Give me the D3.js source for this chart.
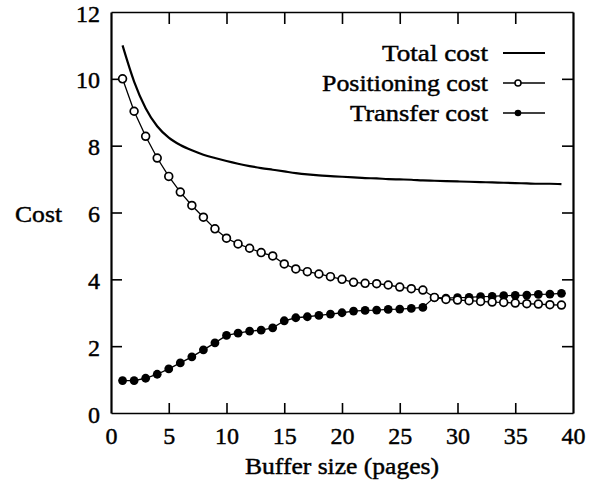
<!DOCTYPE html>
<html><head><meta charset="utf-8">
<script src="https://cdn.jsdelivr.net/npm/d3@7"></script>
</head>
<body><svg id="c" width="593" height="489"></svg>
<script>
const bufferSizes = [1,2,3,4,5,6,7,8,9,10,11,12,13,14,15,16,17,18,19,20,21,22,23,24,25,26,27,28,29,30,31,32,33,34,35,36,37,38,39];
const totalCost = [11.0,9.92,9.12,8.58,8.24,8.02,7.86,7.73,7.63,7.54,7.46,7.39,7.33,7.28,7.23,7.18,7.14,7.11,7.09,7.07,7.05,7.03,7.02,7.0,6.99,6.98,6.96,6.95,6.94,6.93,6.92,6.91,6.90,6.89,6.88,6.87,6.86,6.86,6.85];
const positioningCost = [10.0,9.03,8.28,7.63,7.08,6.61,6.21,5.86,5.51,5.23,5.06,4.93,4.80,4.70,4.46,4.31,4.23,4.16,4.08,4.00,3.91,3.88,3.87,3.83,3.77,3.72,3.68,3.46,3.40,3.38,3.36,3.34,3.32,3.31,3.29,3.27,3.26,3.24,3.23];
const transferCost = [0.97,0.97,1.04,1.16,1.32,1.50,1.68,1.89,2.10,2.32,2.39,2.45,2.48,2.55,2.76,2.85,2.88,2.92,2.96,3.00,3.05,3.07,3.08,3.10,3.11,3.13,3.16,3.46,3.44,3.45,3.46,3.48,3.49,3.51,3.52,3.53,3.55,3.56,3.58];
const xTicks = [0,5,10,15,20,25,30,35,40];
const yTicks = [0,2,4,6,8,10,12];
const seriesNames = ["Total cost","Positioning cost","Transfer cost"];
const xTitle = "Buffer size (pages)";
const yTitle = "Cost";

d3.select("body").style("margin","0").style("background","#fff");
const svg = d3.select("#c").style("display","block");
const L = 111, R = 573, T = 12, B = 413;
const x = d3.scaleLinear().domain([0,40]).range([L,R]);
const y = d3.scaleLinear().domain([0,12]).range([B,T]);

function fontify(sel, size){
  sel.style("font-family",'"Times New Roman"').style("font-size",size+"px")
     .attr("fill","#000").attr("stroke","#000").attr("stroke-width",0.45);
  return sel;
}
function styleAxis(g, w){
  g.attr("font-family",null).attr("font-size",null);
  g.select(".domain").attr("stroke","#000").attr("stroke-width",w);
  g.selectAll(".tick line").attr("stroke","#000").attr("stroke-width",1.6);
  fontify(g.selectAll("text"),24);
}
// bottom
const gb = svg.append("g").attr("transform",`translate(0,${B})`)
  .call(d3.axisBottom(x).tickValues(xTicks).tickSize(-10).tickSizeOuter(0).tickPadding(14).tickFormat(d3.format("d")));
styleAxis(gb,1.6);
gb.selectAll(".tick").filter(d=>d===0||d===40).select("line").remove();
// top
const gt = svg.append("g").attr("transform",`translate(0,${T})`)
  .call(d3.axisTop(x).tickValues(xTicks).tickSize(-12).tickSizeOuter(0).tickFormat(""));
styleAxis(gt,1.6);
gt.selectAll(".tick").filter(d=>d===0||d===40).select("line").remove();
// left
const gl = svg.append("g").attr("transform",`translate(${L},0)`)
  .call(d3.axisLeft(y).tickValues(yTicks).tickSize(-11).tickSizeOuter(0).tickPadding(11).tickFormat(d3.format("d")));
styleAxis(gl,2.2);
gl.selectAll(".tick").filter(d=>d===0||d===12).select("line").remove();
gl.selectAll("text").attr("dy","0.38em");
// right
const gr = svg.append("g").attr("transform",`translate(${R},0)`)
  .call(d3.axisRight(y).tickValues(yTicks).tickSize(-11).tickSizeOuter(0).tickFormat(""));
styleAxis(gr,2.2);
gr.selectAll(".tick").filter(d=>d===0||d===12).select("line").remove();

// titles
fontify(svg.append("text").attr("x",(L+R)/2).attr("y",474).attr("text-anchor","middle")
  .attr("textLength",194).attr("lengthAdjust","spacingAndGlyphs").text(xTitle),24);
fontify(svg.append("text").attr("x",15).attr("y",222)
  .attr("textLength",47).attr("lengthAdjust","spacingAndGlyphs").text(yTitle),24);

// lines
const lineS = d3.line().x((d,i)=>x(bufferSizes[i])).y(d=>y(d)).curve(d3.curveMonotoneX);
svg.append("path").datum(totalCost).attr("d",lineS)
  .attr("fill","none").attr("stroke","#000").attr("stroke-width",2.2);
const lineL = d3.line().x((d,i)=>x(bufferSizes[i])).y(d=>y(d));
svg.append("path").datum(transferCost).attr("d",lineL)
  .attr("fill","none").attr("stroke","#000").attr("stroke-width",1.3);
svg.append("path").datum(positioningCost).attr("d",lineL)
  .attr("fill","none").attr("stroke","#000").attr("stroke-width",1.3);
svg.append("g").selectAll("circle").data(transferCost).join("circle")
  .attr("cx",(d,i)=>x(bufferSizes[i])).attr("cy",d=>y(d)).attr("r",4.4).attr("fill","#000");
svg.append("g").selectAll("circle").data(positioningCost).join("circle")
  .attr("cx",(d,i)=>x(bufferSizes[i])).attr("cy",d=>y(d)).attr("r",3.9)
  .attr("fill","#fff").attr("stroke","#000").attr("stroke-width",1.7);

// legend
const legY = [53,83,113];
const legW = [106,166,138];
seriesNames.forEach((name,i)=>{
  fontify(svg.append("text").attr("x",488).attr("y",legY[i]+8).attr("text-anchor","end")
    .attr("textLength",legW[i]).attr("lengthAdjust","spacingAndGlyphs").text(name),24);
  svg.append("line").attr("x1",503).attr("x2",545).attr("y1",legY[i]).attr("y2",legY[i])
    .attr("stroke","#000").attr("stroke-width",i===0?2.2:1.3);
  if(i===1) svg.append("circle").attr("cx",518).attr("cy",legY[i]).attr("r",3).attr("fill","#fff").attr("stroke","#000").attr("stroke-width",1.5);
  if(i===2) svg.append("circle").attr("cx",518).attr("cy",legY[i]).attr("r",3.3).attr("fill","#000");
});
</script></body></html>
